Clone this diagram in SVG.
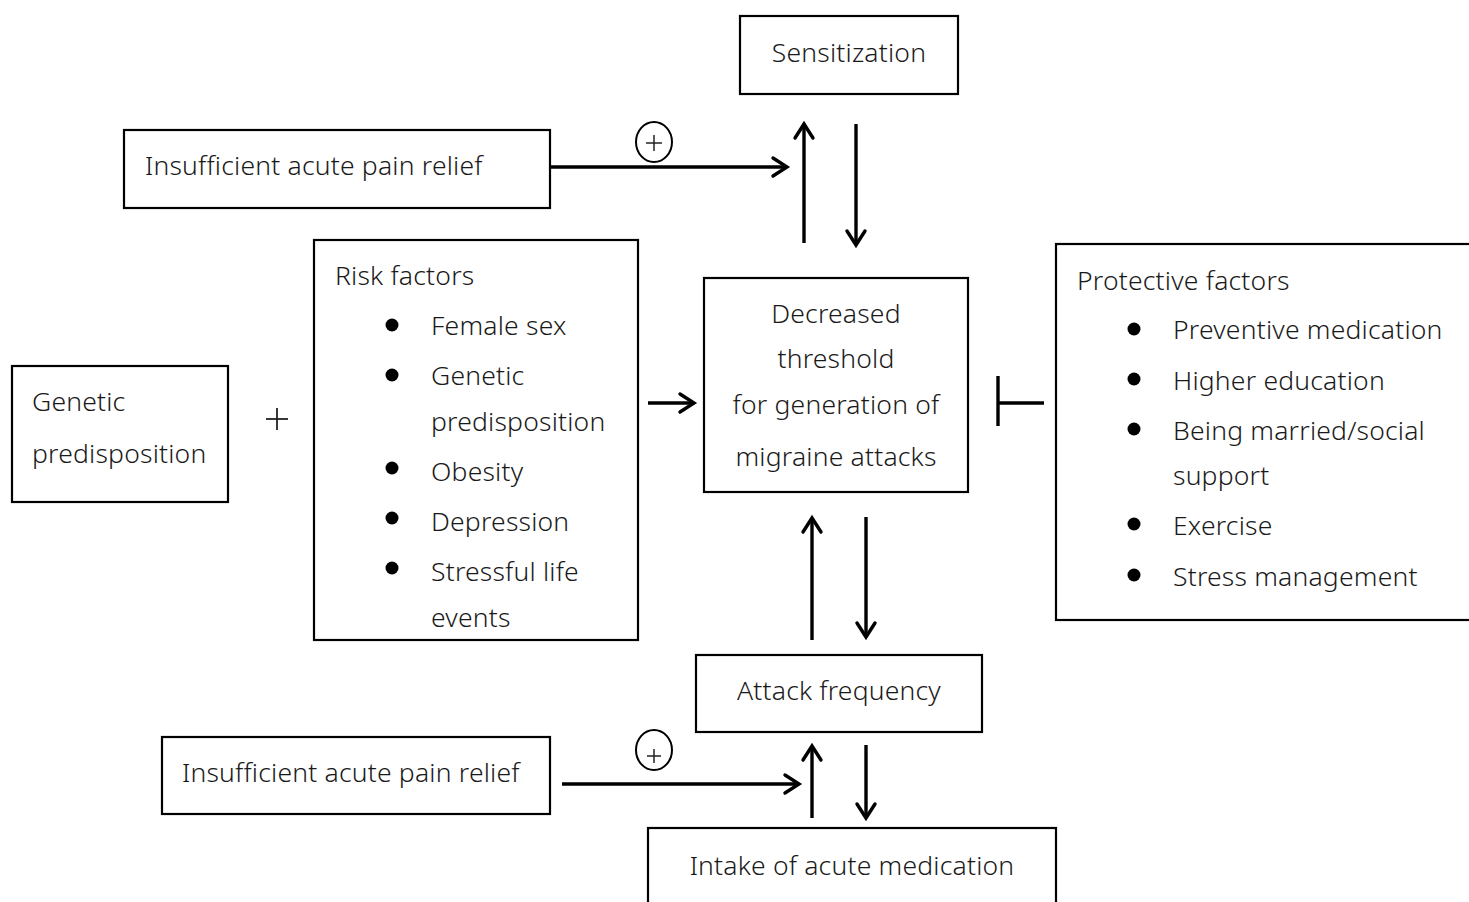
<svg xmlns="http://www.w3.org/2000/svg" width="1469" height="902" viewBox="0 0 1469 902">
<style>
.box{fill:#fff;stroke:#000;stroke-width:2.2}
.t{font-family:"Noto Sans","Open Sans","Liberation Sans",sans-serif;font-weight:300;font-size:26.5px;letter-spacing:0.2px;fill:#1a1a1a}
.m{text-anchor:middle}
.ln{stroke:#000;stroke-width:3.4;fill:none}
.ln2{stroke:#000;stroke-width:2;fill:none}
.dot{fill:#000}
</style>
<defs>
<marker id="arr" viewBox="-2 -2 24 24" markerWidth="24" markerHeight="24" refX="18" refY="10" orient="auto" markerUnits="userSpaceOnUse">
<path d="M4,1 L18,10 L4,19" fill="none" stroke="#000" stroke-width="3.4" stroke-linecap="round"/>
</marker>
</defs>

<g id="connectors">
<line class="ln" x1="550" y1="167" x2="787" y2="167" marker-end="url(#arr)"/>
<line class="ln" x1="804" y1="243" x2="804" y2="124" marker-end="url(#arr)"/>
<line class="ln" x1="856" y1="124" x2="856" y2="245" marker-end="url(#arr)"/>
<line class="ln" x1="648" y1="403" x2="694" y2="403" marker-end="url(#arr)"/>
<line class="ln" x1="998" y1="403" x2="1044" y2="403"/>
<line class="ln" x1="998" y1="376" x2="998" y2="426"/>
<line class="ln" x1="812" y1="640" x2="812" y2="518" marker-end="url(#arr)"/>
<line class="ln" x1="866" y1="517" x2="866" y2="637" marker-end="url(#arr)"/>
<line class="ln" x1="562" y1="784" x2="799" y2="784" marker-end="url(#arr)"/>
<line class="ln" x1="812" y1="818" x2="812" y2="746" marker-end="url(#arr)"/>
<line class="ln" x1="866" y1="745" x2="866" y2="818" marker-end="url(#arr)"/>
<g id="plus-top">
<ellipse class="ln2" cx="654" cy="142" rx="18" ry="20"/>
<line x1="646" y1="143" x2="662" y2="143" stroke="#222" stroke-width="1.5"/>
<line x1="654" y1="135" x2="654" y2="151" stroke="#222" stroke-width="1.5"/>
</g>
<g id="plus-bottom">
<ellipse class="ln2" cx="654" cy="750" rx="18" ry="20"/>
<line x1="647" y1="756" x2="661" y2="756" stroke="#222" stroke-width="1.5"/>
<line x1="654" y1="749" x2="654" y2="763" stroke="#222" stroke-width="1.5"/>
</g>
<g id="plus-genetic">
<line x1="266" y1="419" x2="288" y2="419" stroke="#222" stroke-width="1.8"/>
<line x1="277" y1="408" x2="277" y2="430" stroke="#222" stroke-width="1.8"/>
</g>
</g>

<g id="sensitization">
<rect class="box" x="740" y="16" width="218" height="78"/>
<text class="t m" x="849" y="62">Sensitization</text>
</g>

<g id="pain-relief-top">
<rect class="box" x="124" y="130" width="426" height="78"/>
<text class="t" x="145" y="175">Insufficient acute pain relief</text>
</g>

<g id="genetic">
<rect class="box" x="12" y="366" width="216" height="136"/>
<text class="t" x="32" y="411">Genetic</text>
<text class="t" x="32" y="463">predisposition</text>
</g>

<g id="risk-factors">
<rect class="box" x="314" y="240" width="324" height="400"/>
<text class="t" x="335" y="285">Risk factors</text>
<circle class="dot" cx="392" cy="325" r="6.5"/>
<text class="t" x="431" y="335">Female sex</text>
<circle class="dot" cx="392" cy="375" r="6.5"/>
<text class="t" x="431" y="385">Genetic</text>
<text class="t" x="431" y="431">predisposition</text>
<circle class="dot" cx="392" cy="468" r="6.5"/>
<text class="t" x="431" y="481">Obesity</text>
<circle class="dot" cx="392" cy="518" r="6.5"/>
<text class="t" x="431" y="531">Depression</text>
<circle class="dot" cx="392" cy="568" r="6.5"/>
<text class="t" x="431" y="581">Stressful life</text>
<text class="t" x="431" y="627">events</text>
</g>

<g id="threshold">
<rect class="box" x="704" y="278" width="264" height="214"/>
<text class="t m" x="836" y="323">Decreased</text>
<text class="t m" x="836" y="368">threshold</text>
<text class="t m" x="836" y="414">for generation of</text>
<text class="t m" x="836" y="466">migraine attacks</text>
</g>

<g id="protective-factors">
<rect class="box" x="1056" y="244" width="420" height="376"/>
<text class="t" x="1077" y="290">Protective factors</text>
<circle class="dot" cx="1134" cy="329" r="6.5"/>
<text class="t" x="1173" y="339">Preventive medication</text>
<circle class="dot" cx="1134" cy="379" r="6.5"/>
<text class="t" x="1173" y="390">Higher education</text>
<circle class="dot" cx="1134" cy="429" r="6.5"/>
<text class="t" x="1173" y="440">Being married/social</text>
<text class="t" x="1173" y="485">support</text>
<circle class="dot" cx="1134" cy="524" r="6.5"/>
<text class="t" x="1173" y="535">Exercise</text>
<circle class="dot" cx="1134" cy="575" r="6.5"/>
<text class="t" x="1173" y="586">Stress management</text>
</g>

<g id="attack-frequency">
<rect class="box" x="696" y="655" width="286" height="77"/>
<text class="t m" x="839" y="700">Attack frequency</text>
</g>

<g id="pain-relief-bottom">
<rect class="box" x="162" y="737" width="388" height="77"/>
<text class="t" x="182" y="782">Insufficient acute pain relief</text>
</g>

<g id="acute-medication">
<rect class="box" x="648" y="828" width="408" height="80"/>
<text class="t m" x="852" y="875">Intake of acute medication</text>
</g>
</svg>
